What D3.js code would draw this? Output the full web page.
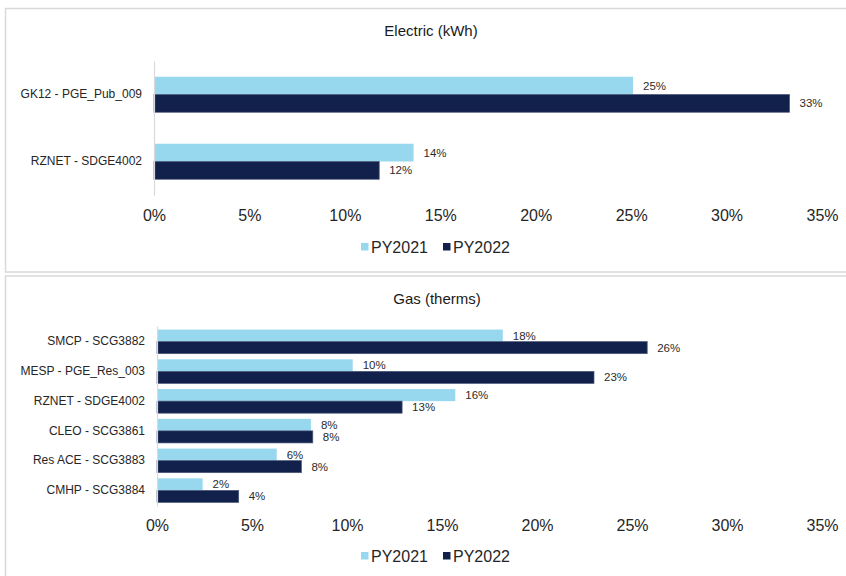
<!DOCTYPE html>
<html>
<head>
<meta charset="utf-8">
<script src="https://cdn.jsdelivr.net/npm/d3@7"></script>
<style>
  html, body { margin: 0; padding: 0; background: #fff; }
  svg { display: block; font-family: "Liberation Sans", Arial, sans-serif; }
</style>
</head>
<body>
<svg id="chart" width="846" height="576"></svg>
<script>
// ---------- Data ----------
const seriesNames = ["PY2021", "PY2022"];
const seriesColors = ["#97d8ef", "#12214b"];

const electricTitle = "Electric (kWh)";
const electricCategories = ["GK12 - PGE_Pub_009", "RZNET - SDGE4002"];
const electricPY2021 = [25.1, 13.6];
const electricPY2022 = [33.3, 11.8];

const gasTitle = "Gas (therms)";
const gasCategories = ["SMCP - SCG3882", "MESP - PGE_Res_003", "RZNET - SDGE4002", "CLEO - SCG3861", "Res ACE - SCG3883", "CMHP - SCG3884"];
const gasPY2021 = [18.2, 10.3, 15.7, 8.1, 6.3, 2.4];
const gasPY2022 = [25.8, 23.0, 12.9, 8.2, 7.6, 4.3];

const tickValues = [0, 5, 10, 15, 20, 25, 30, 35];

// ---------- Drawing ----------
const svg = d3.select("#chart");

function panel(cfg) {
  const g = svg.append("g");
  g.append("rect")
    .attr("x", cfg.box[0]).attr("y", cfg.box[1])
    .attr("width", cfg.box[2]).attr("height", cfg.box[3])
    .attr("fill", "#fff").attr("stroke", "#d9d9d9").attr("stroke-width", 1.5);

  g.append("text")
    .attr("x", cfg.titleX).attr("y", cfg.titleY)
    .attr("text-anchor", "middle").attr("dominant-baseline", "central")
    .attr("font-size", 15).attr("fill", "#1a1a1a")
    .text(cfg.title);

  const x = d3.scaleLinear().domain([0, 35]).range([cfg.x0, cfg.x1]);
  const y = d3.scaleBand().domain(cfg.categories).range([cfg.y0, cfg.y1])
    .paddingInner(cfg.padIn).paddingOuter(cfg.padOut);
  const ys = d3.scaleBand().domain(seriesNames).range([0, y.bandwidth()]);

  const rows = cfg.categories.map((c, i) => ({ c, vals: [cfg.s1[i], cfg.s2[i]] }));

  const rg = g.selectAll("g.row").data(rows).join("g")
    .attr("transform", d => `translate(0,${y(d.c)})`);

  rg.selectAll("rect").data(d => d.vals.map((v, k) => ({ v, k }))).join("rect")
    .attr("x", x(0))
    .attr("y", d => ys(seriesNames[d.k]))
    .attr("width", d => x(d.v) - x(0))
    .attr("height", ys.bandwidth())
    .attr("fill", d => seriesColors[d.k])
    .attr("stroke", d => d.k === 1 ? "#4a5878" : "none")
    .attr("stroke-width", 0.7);

  rg.selectAll("text").data(d => d.vals.map((v, k) => ({ v, k }))).join("text")
    .attr("x", d => x(d.v) + 10)
    .attr("y", d => ys(seriesNames[d.k]) + ys.bandwidth() / 2)
    .attr("dominant-baseline", "central")
    .attr("font-size", 11.5).attr("fill", "#2b2b2b")
    .text(d => Math.round(d.v) + "%");

  const yAxis = g.append("g").attr("transform", `translate(${x(0)},0)`)
    .call(d3.axisLeft(y).tickSize(0).tickPadding(cfg.catPad));
  yAxis.select(".domain").attr("stroke", "#d9d9d9").attr("stroke-width", 1.2);
  yAxis.selectAll("text").attr("font-size", 12).attr("fill", "#262626")
    .attr("font-family", "Liberation Sans, Arial, sans-serif");

  const xAxis = g.append("g").attr("transform", `translate(0,${cfg.tickY})`)
    .call(d3.axisBottom(x).tickValues(tickValues).tickSize(0).tickPadding(0)
      .tickFormat(d => d + "%"));
  xAxis.select(".domain").remove();
  xAxis.selectAll("text").attr("font-size", 16).attr("fill", "#262626")
    .attr("dy", null).attr("dominant-baseline", "central")
    .attr("font-family", "Liberation Sans, Arial, sans-serif");

  const legendX = [361, 443];
  const lg = g.selectAll("g.leg").data(seriesNames).join("g")
    .attr("transform", (d, i) => `translate(${legendX[i]},${cfg.legendY})`);
  lg.append("rect").attr("x", 0).attr("y", -4).attr("width", 7.5).attr("height", 7.5)
    .attr("fill", (d, i) => seriesColors[i]);
  lg.append("text").attr("x", 10).attr("y", 0).attr("dominant-baseline", "central")
    .attr("font-size", 16).attr("fill", "#262626").text(d => d);
}

panel({
  box: [5.5, 8.5, 860, 263.5],
  title: electricTitle, titleX: 431, titleY: 30,
  categories: electricCategories, s1: electricPY2021, s2: electricPY2022,
  x0: 154, x1: 822, y0: 61, y1: 195, padIn: 0.47, padOut: 0.235,
  catPad: 12, tickY: 215, legendY: 247
});

panel({
  box: [5.5, 276, 860, 320],
  title: gasTitle, titleX: 437, titleY: 298,
  categories: gasCategories, s1: gasPY2021, s2: gasPY2022,
  x0: 157, x1: 822, y0: 326, y1: 506, padIn: 0.19, padOut: 0.12,
  catPad: 12, tickY: 525, legendY: 556
});
</script>
</body>
</html>
